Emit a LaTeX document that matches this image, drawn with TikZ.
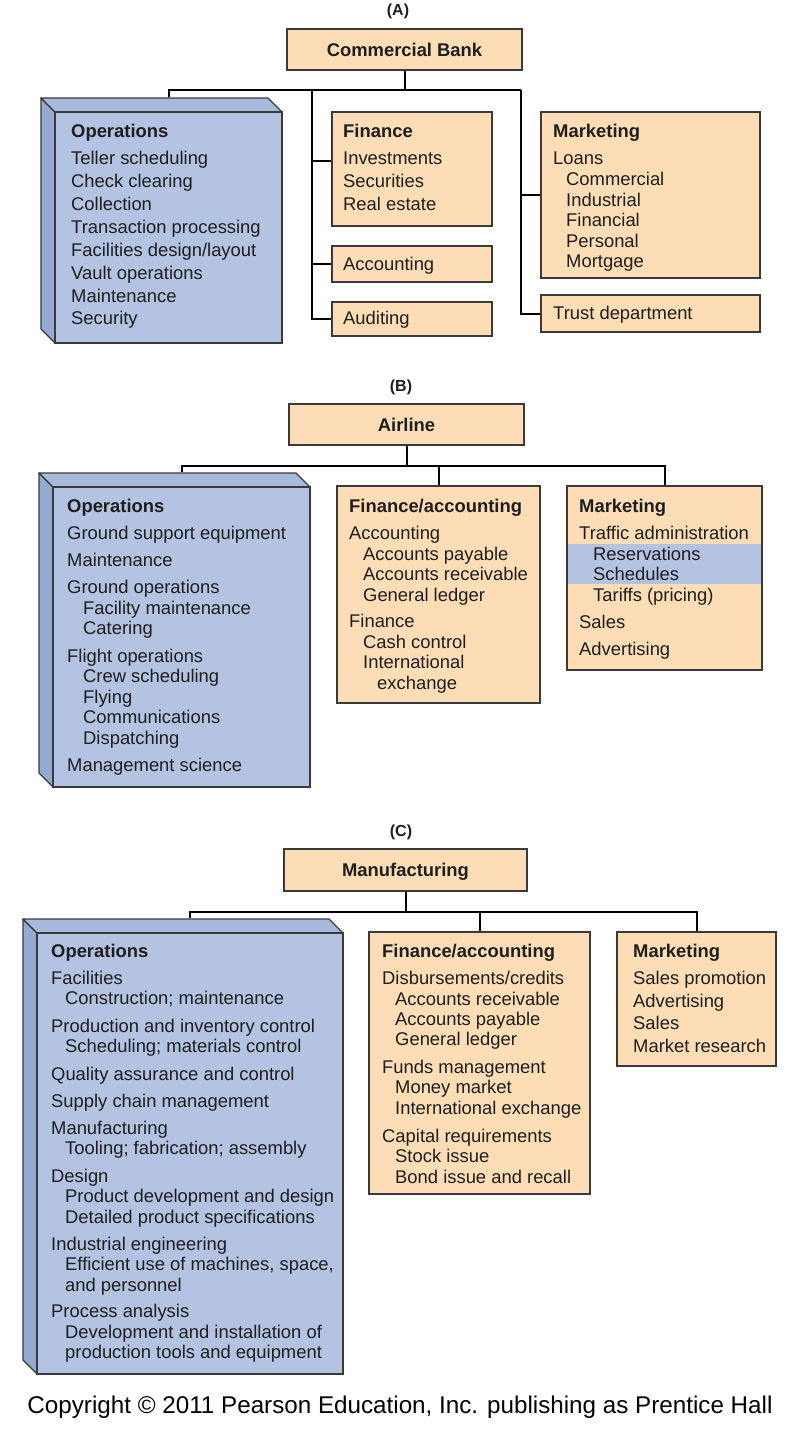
\documentclass[tikz,border=0pt]{standalone}
\usepackage{fontspec}
\usepackage{graphicx}
\setmainfont{Liberation Sans}
\usetikzlibrary{calc}
\definecolor{peach}{HTML}{FCDDB6}
\definecolor{opsfront}{HTML}{B3C3E1}
\definecolor{opstop}{HTML}{A8BADC}
\definecolor{opsside}{HTML}{95AAD2}
\definecolor{edge}{HTML}{3A3A3A}
\definecolor{ink}{HTML}{1E1E1E}
\tikzset{
  box/.style={draw=edge, line width=1.3pt, fill=peach, inner sep=0pt},
  opsface/.style={draw=edge, line width=1.3pt, fill=opsfront, inner sep=0pt},
  conn/.style={draw=black, line width=2pt, line join=miter},
  item/.style={anchor=base west, inner sep=0pt, text=ink, font=\fontsize{18.4}{20}\selectfont},
  head/.style={item, font=\fontsize{18.4}{20}\selectfont\bfseries},
  title/.style={anchor=base, inner sep=0pt, text=ink, font=\fontsize{18.4}{20}\selectfont\bfseries},
  partlabel/.style={anchor=base, inner sep=0pt, text=ink, font=\fontsize{16}{18}\selectfont\bfseries},
}
% style, name, x1, y1, x2, y2
\newcommand\rectnode[6]{%
  \node[#1, minimum width={(#5-#3)*1pt}, minimum height={(#6-#4)*1pt}] (#2) at ({(#3+#5)/2},{(#4+#6)/2}) {};}
% 3-D operations box: name, x1, y1, x2, y2
\newcommand\opsblock[5]{%
  \fill[opsside, draw=edge, line width=1.3pt, line join=round] (#2,#3) -- ++(-14,-14) -- ({#2-14},{#5-14}) -- (#2,#5) -- cycle;
  \fill[opstop, draw=edge, line width=1.3pt, line join=round] (#2,#3) -- ++(-14,-14) -- ({#4-14},{#3-14}) -- (#4,#3) -- cycle;
  \rectnode{opsface}{#1}{#2}{#3}{#4}{#5}
  \coordinate (#1top) at ($(#1.north)+(0,-14)$);}
% item lines: prefix, x, indent, list level/baseline/text
\newcommand\itemlist[4]{%
  \foreach \ilev/\iy/\itx [count=\i] in {#4} {\node[item] (#1-\i) at ({#2+\ilev*#3},\iy) {\itx};}}
\begin{document}
\begin{tikzpicture}[x=1pt,y=-1pt]
\useasboundingbox[fill=white] (0,0) rectangle (799,1438);

% ---------------- (A) ----------------
\node[partlabel] (labA) at (398,15) {(A)};
\rectnode{box}{bankA}{287}{29}{522}{70}
\node[title] (bankAt) at ($(bankA.center)+(0,6.5)$) {Commercial Bank};
\opsblock{opsA}{55}{112}{282}{343}
\rectnode{box}{finA}{332}{112}{492}{226}
\rectnode{box}{accA}{332}{246}{492}{282}
\rectnode{box}{audA}{332}{302}{492}{336}
\rectnode{box}{mktA}{541}{112}{760}{278}
\rectnode{box}{trustA}{541}{295}{760}{332}

\coordinate (yA) at (0,90);
\coordinate (jA1) at (312,90);
\coordinate (jA2) at (521,90);
\coordinate (finAj) at (312,161);
\draw[conn] (bankA.south) -- (bankA.south |- yA);
\draw[conn] (opsAtop) -- (opsAtop |- yA) -- (jA2);
\draw[conn] (jA1) |- (audA.west);
\draw[conn] (finAj) -- (finAj -| finA.west);
\draw[conn] (jA1 |- accA.west) -- (accA.west);
\draw[conn] (jA2) |- (trustA.west);
\draw[conn] (jA2 |- mktA.west) -- (mktA.west);

\node[head] (opsAh) at (71,137.5) {Operations};
\itemlist{opsAi}{71}{14}{0/164.5/Teller scheduling, 0/187.5/Check clearing, 0/210.5/Collection, 0/233.5/Transaction processing, 0/256/{Facilities design/layout}, 0/279/Vault operations, 0/302/Maintenance, 0/324.5/Security}
\node[head] (finAh) at (343,137.5) {Finance};
\itemlist{finAi}{343}{14}{0/164.5/Investments, 0/187.5/Securities, 0/210.5/Real estate}
\node[item] (accAt) at (343,270.5) {Accounting};
\node[item] (audAt) at (343,324.5) {Auditing};
\node[head] (mktAh) at (553,137.5) {Marketing};
\itemlist{mktAi}{553}{13}{0/164.5/Loans, 1/185.5/Commercial, 1/206/Industrial, 1/226.5/Financial, 1/247/Personal, 1/267.5/Mortgage}
\node[item] (trustAt) at (553,319.5) {Trust department};

% ---------------- (B) ----------------
\node[partlabel] (labB) at (401,391) {(B)};
\rectnode{box}{airB}{289}{404}{524}{445}
\node[title] (airBt) at ($(airB.center)+(0,6.5)$) {Airline};
\opsblock{opsB}{53}{487}{310}{787}
\rectnode{box}{finB}{337}{486}{540}{703}
\rectnode{box}{mktB}{567}{486}{762}{670}
\fill[opsfront] (567.7,544) rectangle (761.3,584);

\coordinate (yB) at (0,466);
\draw[conn] (airB.south) -- (airB.south |- yB);
\draw[conn] (opsBtop) -- (opsBtop |- yB) -| (mktB.north);
\draw[conn] (finB.north |- yB) -- (finB.north);

\node[head] (opsBh) at (67,512.5) {Operations};
\itemlist{opsBi}{67}{16}{0/539.5/Ground support equipment, 0/566.5/Maintenance, 0/593.5/Ground operations, 1/614/Facility maintenance, 1/634.5/Catering, 0/662/Flight operations, 1/682.5/Crew scheduling, 1/703/Flying, 1/723.5/Communications, 1/744/Dispatching, 0/771/Management science}
\node[head] (finBh) at (349,512.5) {Finance/accounting};
\itemlist{finBi}{349}{14}{0/539.5/Accounting, 1/560/Accounts payable, 1/580.5/Accounts receivable, 1/601/General ledger, 0/627.5/Finance, 1/648/Cash control, 1/668.5/International, 2/689/exchange}
\node[head] (mktBh) at (579,512.5) {Marketing};
\itemlist{mktBi}{579}{14}{0/539/Traffic administration, 1/560/Reservations, 1/580.5/Schedules, 1/601/Tariffs (pricing), 0/628/Sales, 0/655/Advertising}

% ---------------- (C) ----------------
\node[partlabel] (labC) at (401,836) {(C)};
\rectnode{box}{manC}{284}{849}{527}{891}
\node[title] (manCt) at ($(manC.center)+(0,6.5)$) {Manufacturing};
\opsblock{opsC}{37}{933}{343}{1374}
\rectnode{box}{finC}{369}{932}{590}{1194}
\rectnode{box}{mktC}{617}{932}{776}{1066}

\coordinate (yC) at (0,912);
\draw[conn] (manC.south) -- (manC.south |- yC);
\draw[conn] (opsCtop) -- (opsCtop |- yC) -| (mktC.north);
\draw[conn] (finC.north |- yC) -- (finC.north);

\node[head] (opsCh) at (51,957) {Operations};
\itemlist{opsCi}{51}{14}{0/984/Facilities, 1/1004.5/Construction; maintenance, 0/1032/Production and inventory control, 1/1052.5/Scheduling; materials control, 0/1080/Quality assurance and control, 0/1107/Supply chain management, 0/1134/Manufacturing, 1/1154.5/Tooling; fabrication; assembly, 0/1182/Design, 1/1202.5/Product development and design, 1/1223/Detailed product specifications, 0/1250/Industrial engineering, 1/1270.5/{Efficient use of machines, space,}, 1/1291/and personnel, 0/1317.5/Process analysis, 1/1338/Development and installation of, 1/1358.5/production tools and equipment}
\node[head] (finCh) at (382,957) {Finance/accounting};
\itemlist{finCi}{382}{13}{0/984/{Disbursements/credits}, 1/1005/Accounts receivable, 1/1025/Accounts payable, 1/1045.5/General ledger, 0/1073/Funds management, 1/1093/Money market, 1/1114/International exchange, 0/1142/Capital requirements, 1/1162/Stock issue, 1/1183/Bond issue and recall}
\node[head] (mktCh) at (633,957) {Marketing};
\itemlist{mktCi}{633}{14}{0/984/Sales promotion, 0/1007/Advertising, 0/1029.5/Sales, 0/1052/Market research}

% ---------------- copyright ----------------
\node[anchor=base, inner sep=0pt, text=black] (copy) at (400,1413) {\resizebox{745pt}{!}{\fontsize{24}{28}\selectfont Copyright © 2011 Pearson Education, Inc. publishing as Prentice Hall}};
\end{tikzpicture}
\end{document}
